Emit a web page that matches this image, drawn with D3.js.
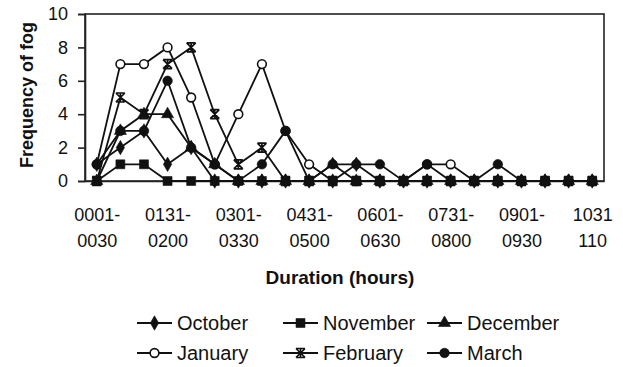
<!DOCTYPE html>
<html>
<head>
<meta charset="utf-8">
<script src="https://cdn.jsdelivr.net/npm/d3@7"></script>
<style>
  body { margin:0; background:#fff; }
  svg text { font-family:Arial, "Liberation Sans", sans-serif; fill:#111; }
</style>
</head>
<body>
<div id="chart_container"></div>
<script>
// Duration classes (30 min each), the months and the fog counts.
var category_array = [
  "0001-0030", "0031-0100", "0101-0130", "0131-0200", "0201-0230", "0231-0300",
  "0301-0330", "0331-0400", "0401-0430", "0431-0500", "0501-0530", "0531-0600",
  "0601-0630", "0631-0700", "0701-0730", "0731-0800", "0801-0830", "0831-0900",
  "0901-0930", "0931-1000", "1001-1030", "1031-1100"
];
var tick_category_array = ["0001-0030", "0131-0200", "0301-0330", "0431-0500", "0601-0630", "0731-0800", "0901-0930", "1031-1100"];
var tick_line_1_array   = ["0001-", "0131-", "0301-", "0431-", "0601-", "0731-", "0901-", "1031"];
var tick_line_2_array   = ["0030",  "0200",  "0330",  "0500",  "0630",  "0800",  "0930",  "110"];
var y_tick_array        = [0, 2, 4, 6, 8, 10];

var month_array    = ["October", "November", "December", "January", "February", "March"];
var value_october  = [1, 2, 3, 1, 2, 0, 0, 0, 0, 0, 0, 1, 0, 0, 0, 0, 0, 0, 0, 0, 0, 0];
var value_november = [0, 1, 1, 0, 0, 0, 0, 0, 0, 0, 0, 0, 0, 0, 0, 0, 0, 0, 0, 0, 0, 0];
var value_december = [0, 3, 4, 4, 2, 1, 0, 0, 0, 0, 1, 0, 0, 0, 0, 0, 0, 0, 0, 0, 0, 0];
var value_january  = [1, 7, 7, 8, 5, 1, 4, 7, 3, 1, 0, 0, 0, 0, 1, 1, 0, 0, 0, 0, 0, 0];
var value_february = [0, 5, 4, 7, 8, 4, 1, 2, 0, 0, 0, 0, 0, 0, 0, 0, 0, 0, 0, 0, 0, 0];
var value_march    = [1, 3, 3, 6, 2, 1, 0, 1, 3, 0, 1, 1, 1, 0, 1, 0, 0, 1, 0, 0, 0, 0];
var marker_array   = ["diamond", "square", "triangle", "open", "star", "circle"];

var series_array = [value_october, value_november, value_december, value_january, value_february, value_march]
  .map(function (v, i) { return { name:month_array[i], marker:marker_array[i], values:v }; });

var dimension = { height:367, width:623 };
var plot      = { left:85, right:604, top:14, bottom:181 };

var scale_x = d3.scalePoint().domain(category_array).range([plot.left, plot.right]).padding(0.5);
var scale_y = d3.scaleLinear().domain([0, 10]).range([plot.bottom, plot.top]);

var svg = d3.select("#chart_container").append("svg")
  .attr("height", dimension.height)
  .attr("width" , dimension.width);

// Marker shapes, drawn at (0,0) and moved with a transform.
function marker_draw (_g, _kind) {
  if (_kind == "star") {
    _g.append("path")
      .attr("d", "M-4.5,-4.5L4.5,4.5M-4.5,4.5L4.5,-4.5M-4.5,-4.5L4.5,-4.5M-4.5,4.5L4.5,4.5M0,-4.5L0,4.5")
      .style("fill", "none")
      .style("stroke", "#111")
      .style("stroke-width", 1.7);
    return;
  }
  var symbol_type = { diamond:d3.symbolDiamond, square:d3.symbolSquare, triangle:d3.symbolTriangle, open:d3.symbolCircle, circle:d3.symbolCircle }[_kind];
  var symbol_size = { diamond:60, square:80, triangle:64, open:60, circle:72 }[_kind];
  _g.append("path")
    .attr("d", d3.symbol().type(symbol_type).size(symbol_size)())
    .style("fill", _kind == "open" ? "#fff" : "#111")
    .style("stroke", "#111")
    .style("stroke-width", _kind == "open" ? 1.6 : 0.6);
}

// Frame of the plot area.
svg.append("rect")
  .attr("x", plot.left)
  .attr("y", plot.top)
  .attr("width", plot.right - plot.left)
  .attr("height", plot.bottom - plot.top)
  .style("fill", "none")
  .style("stroke", "#222")
  .style("stroke-width", 1.6);

// Y axis.
var axis_y = svg.append("g")
  .attr("transform", "translate(" + plot.left + ",0)")
  .call(d3.axisLeft(scale_y).tickValues(y_tick_array).tickSize(7).tickPadding(10));
axis_y.select(".domain").style("stroke", "#222").style("stroke-width", 1.6);
axis_y.selectAll(".tick line").style("stroke", "#222").style("stroke-width", 1.6);
axis_y.selectAll(".tick text").style("font-size", "18px").style("font-family", "Arial, 'Liberation Sans', sans-serif").attr("fill", "#111");

// X axis: two line labels on every third class.
var axis_x = svg.append("g")
  .attr("transform", "translate(0," + plot.bottom + ")")
  .call(d3.axisBottom(scale_x).tickValues(tick_category_array).tickSize(0).tickFormat(""));
axis_x.select(".domain").style("stroke", "#222").style("stroke-width", 1.6);
axis_x.selectAll(".tick").each(function (d, i) {
  var t = d3.select(this).append("text")
    .attr("text-anchor", "middle")
    .style("font-size", "18px");
  t.append("tspan").attr("x", 0).attr("y", 40).text(tick_line_1_array[i]);
  t.append("tspan").attr("x", 0).attr("y", 66).text(tick_line_2_array[i]);
});

// Axis titles.
svg.append("text")
  .attr("x", 340)
  .attr("y", 284)
  .attr("text-anchor", "middle")
  .style("font-size", "19px")
  .style("font-weight", "bold")
  .text("Duration (hours)");
svg.append("text")
  .attr("transform", "translate(33,95) rotate(-90)")
  .attr("text-anchor", "middle")
  .style("font-size", "18px")
  .style("font-weight", "bold")
  .text("Frequency of fog");

// Lines first, then markers; November's squares end up on top along zero.
var line_gen = d3.line()
  .x(function (d, i) { return scale_x(category_array[i]); })
  .y(function (d) { return scale_y(d); });

series_array.forEach(function (s) {
  svg.append("path")
    .attr("d", line_gen(s.values))
    .style("fill", "none")
    .style("stroke", "#111")
    .style("stroke-width", 1.8);
});

var marker_order = [0, 2, 3, 4, 5, 1];
marker_order.forEach(function (k) {
  var s = series_array[k];
  s.values.forEach(function (v, i) {
    var g = svg.append("g")
      .attr("transform", "translate(" + scale_x(category_array[i]) + "," + scale_y(v) + ")");
    marker_draw(g, s.marker);
  });
});

// Legend, three columns and two rows.
var legend_x = [137, 283, 427];
var legend_y = [323, 353];
series_array.forEach(function (s, i) {
  var g = svg.append("g")
    .attr("transform", "translate(" + legend_x[i % 3] + "," + legend_y[Math.floor(i/3)] + ")");
  g.append("line")
    .attr("x1", 0)
    .attr("x2", 35)
    .style("stroke", "#111")
    .style("stroke-width", 1.8);
  marker_draw(g.append("g").attr("transform", "translate(17.5,0)"), s.marker);
  g.append("text")
    .attr("x", 40)
    .attr("y", 7)
    .style("font-size", "20px")
    .text(s.name);
});
</script>
</body>
</html>
